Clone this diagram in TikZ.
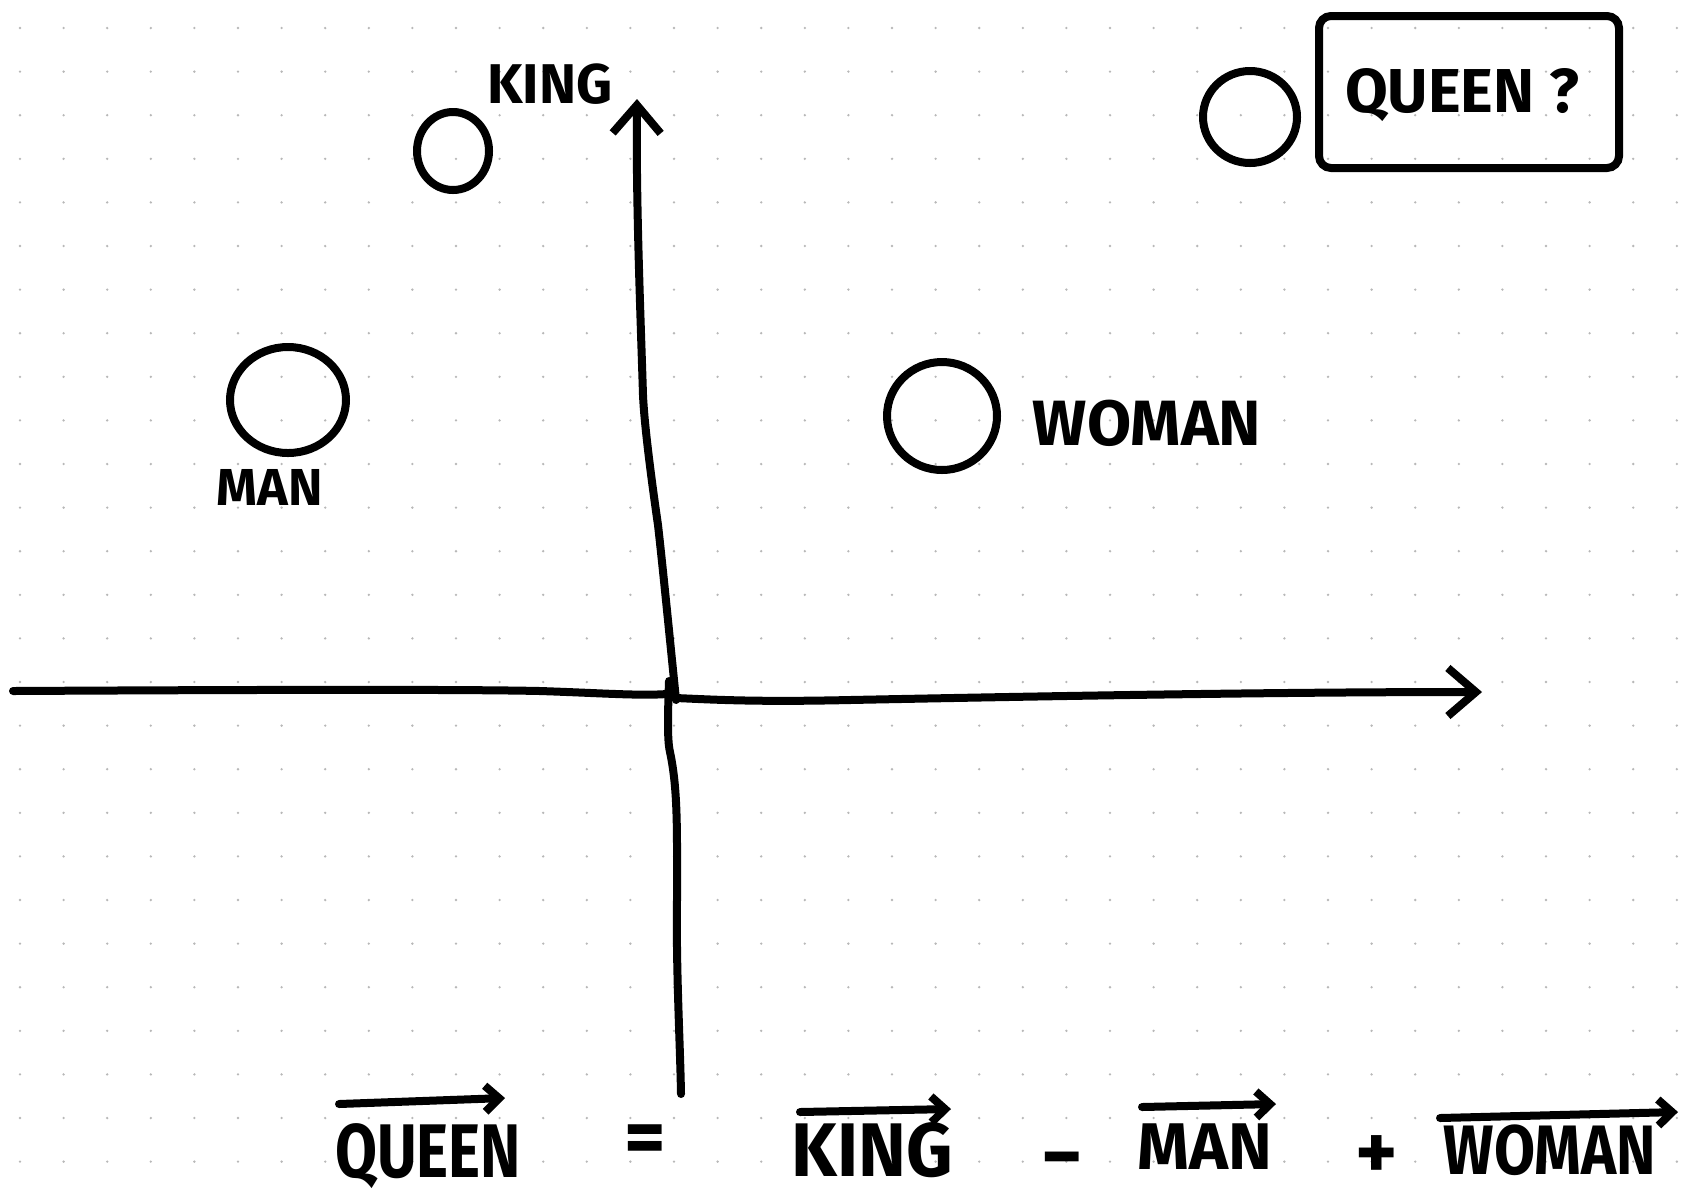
\documentclass[tikz,border=0pt]{standalone}
\usepackage{fontspec}
\setmainfont{Fira Sans}
\usetikzlibrary{arrows.meta,shapes.geometric}
\tikzset{
  ink/.style={line width=4pt, line cap=round, line join=round, black},
  pt/.style={ellipse, draw, line width=4pt, inner sep=0pt},
  lbl/.style={inner sep=0pt, font=\fontsize{#1}{#1}\selectfont\bfseries},
  vec/.style={ink, -{Straight Barb[length=7pt,width=13pt,line width=4pt]}},
  axis/.style={ink, -{Straight Barb[length=14pt,width=24pt,line width=4pt]}},
}
\newcommand{\hw}[2]{\scalebox{#1}[1]{#2}}
\begin{document}
\begin{tikzpicture}[x=0.5pt,y=-0.5pt]
\useasboundingbox (0,0) rectangle (1685,1201);
\fill[white] (0,0) rectangle (1685,1201);
% dot grid
\foreach \i in {0,...,38}
  \foreach \j in {0,...,26}
    \fill[black!28] ({20+43.6*\i},{28+43.6*\j}) circle (0.65pt);

% axes
\coordinate (yTop) at (637,99);
\coordinate (xEnd) at (1482,692);
\draw[axis] (676,700) .. controls (670,640) and (662,560) .. (658,525)
   .. controls (650,470) and (644,420) .. (643,395)
   .. controls (640,300) and (636,200) .. (yTop);
\draw[ink] (669,681) .. controls (668,710) and (667,740) .. (670,752)
   .. controls (678,790) and (677,830) .. (677,900)
   .. controls (676,970) and (680,1040) .. (681,1094);
\draw[ink] (13,691) .. controls (200,690) and (450,689) .. (540,691)
   .. controls (600,693) and (640,696) .. (667,694);
\draw[axis] (676,698) .. controls (720,700) and (760,702) .. (850,700)
   .. controls (1100,695) and (1300,692) .. (xEnd);

% points
\node[pt, minimum width=36pt, minimum height=39pt] (king) at (453,151) {};
\node[pt, minimum width=58pt, minimum height=53pt] (man) at (288,400) {};
\node[pt, minimum width=55pt, minimum height=54pt] (woman) at (942,416) {};
\node[pt, minimum width=47pt, minimum height=46pt] (queen) at (1250,117) {};

% labels
\node[lbl=28pt] (kinglbl) at (550,84) {KING};
\node[lbl=26pt] (manlbl) at (270,487) {MAN};
\node[lbl=32pt] (womanlbl) at (1147,423) {WOMAN};
\node[draw, line width=4pt, rounded corners=6pt, minimum width=150pt, minimum height=76pt] (qbox) at (1469,92) {};
\node[lbl=31pt] (queenlbl) at (1462,95) {QUEEN ?};

% equation
\node[lbl=38pt] (eqQ) at (428,1156) {\hw{0.8}{QUEEN}};
\node[lbl=40pt] (eqEq) at (645,1145) {=};
\node[lbl=38pt] (eqK) at (872,1150) {\hw{0.95}{KING}};
\node[lbl=40pt, inner sep=2pt] (eqMinus) at (1062,1168) {−};
\node[lbl=33pt] (eqM) at (1205,1147) {\hw{1.0}{MAN}};
\node[lbl=40pt] (eqPlus) at (1377,1158) {+};
\node[lbl=35pt] (eqW) at (1550,1150) {\hw{0.85}{WOMAN}};

\coordinate (vq1) at (339,1104); \coordinate (vq2) at (505,1098);
\coordinate (vk1) at (800,1112); \coordinate (vk2) at (951,1109);
\coordinate (vm1) at (1142,1107); \coordinate (vm2) at (1276,1104);
\coordinate (vw1) at (1440,1118); \coordinate (vw2) at (1678,1112);
\draw[vec] (vq1) -- (vq2);
\draw[vec] (vk1) -- (vk2);
\draw[vec] (vm1) -- (vm2);
\draw[vec] (vw1) -- (vw2);
\end{tikzpicture}
\end{document}
